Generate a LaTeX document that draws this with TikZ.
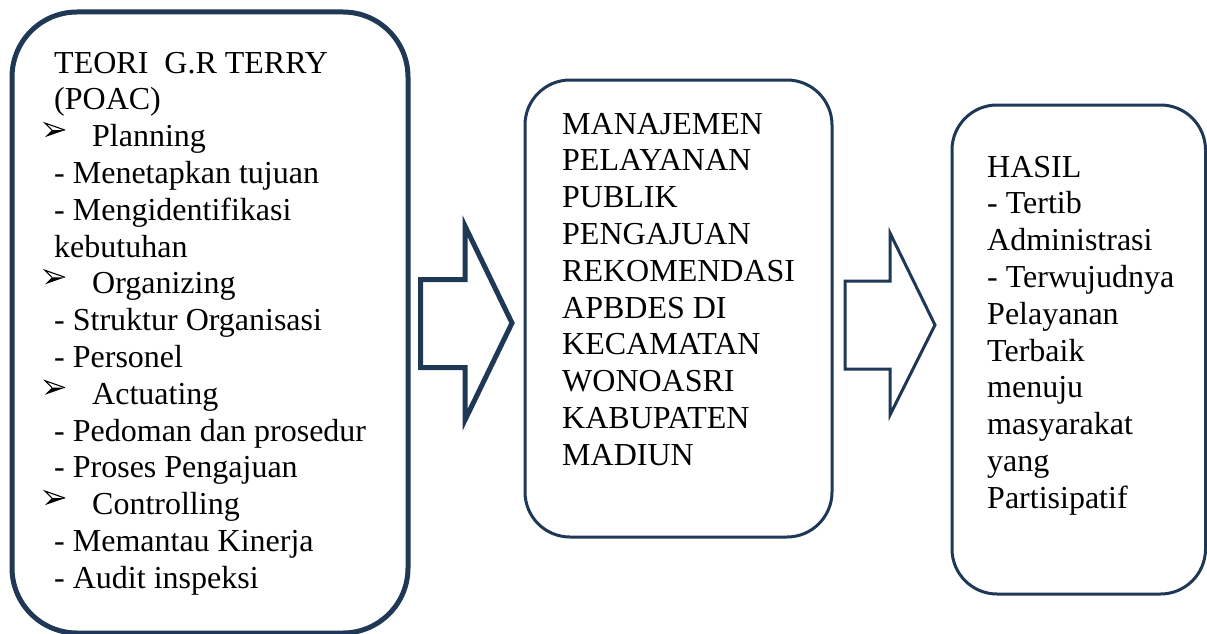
\documentclass[tikz,border=0pt]{standalone}
\usepackage{fontspec}
\setmainfont{Liberation Serif}
\definecolor{navy}{RGB}{31,56,86}

\begin{document}
\begin{tikzpicture}[x=1pt,y=-1pt,
  panel/.style={draw=navy, rounded corners=#1, inner sep=0pt},
  % texts are placed by the baseline of their last line
  body/.style={anchor=base west, inner sep=0pt, align=left,
               font=\fontsize{32}{36.8}\selectfont},
  blockarrow/.style={draw=navy, line join=miter},
  % arrowhead bullet: outlined upper half, solid lower half
  dart/.pic={
    \draw[line width=1.1pt, line join=miter] (-3,0) -- (-10,-7) -- (10,0);
    \fill (-3,0) -- (10,0) -- (-10,7) -- cycle;
  }]
\useasboundingbox (0,0) rectangle (1207,634);

% framed panels
\node[panel=65pt, line width=5pt, minimum width=396pt, minimum height=621pt] (theory) at (210,322.5) {};
\node[panel=45pt, line width=3pt, minimum width=307pt, minimum height=457pt] (process) at (678.5,308.5) {};
\node[panel=45pt, line width=3pt, minimum width=253.5pt, minimum height=489pt] (result) at (1078.75,349.5) {};

% panel texts
\node[body] (theorytext) at (54,588.2) {TEORI\ \ G.R TERRY\\(POAC)\\
  \hspace*{38pt}Planning\\
  - Menetapkan tujuan\\
  - Mengidentifikasi\\
  kebutuhan\\
  \hspace*{38pt}Organizing\\
  - Struktur Organisasi\\
  - Personel\\
  \hspace*{38pt}Actuating\\
  - Pedoman dan prosedur\\
  - Proses Pengajuan\\
  \hspace*{38pt}Controlling\\
  - Memantau Kinerja\\
  - Audit inspeksi};

% bullets in front of the four POAC functions
\foreach \by in {146.6, 293.8, 404.2, 514.6}
  \pic at (55,\by-16.5) {dart};

\node[body] (processtext) at (562,465.2) {MANAJEMEN\\PELAYANAN\\PUBLIK\\PENGAJUAN\\REKOMENDASI\\APBDES DI\\KECAMATAN\\WONOASRI\\KABUPATEN\\MADIUN};

\node[body] (resulttext) at (987,508.2) {HASIL\\- Tertib\\Administrasi\\- Terwujudnya\\Pelayanan\\Terbaik\\menuju\\masyarakat\\yang\\Partisipatif};

% block arrows between the panels
\draw[blockarrow, line width=5pt] (420.5,279.5) -- (465,279.5) -- (465,226) -- (512,323)
  -- (465,420) -- (465,367.5) -- (420.5,367.5) -- cycle;
\draw[blockarrow, line width=3pt] (845,281) -- (890,281) -- (890,233) -- (935,325)
  -- (890,415) -- (890,369) -- (845,369) -- cycle;
\end{tikzpicture}
\end{document}
